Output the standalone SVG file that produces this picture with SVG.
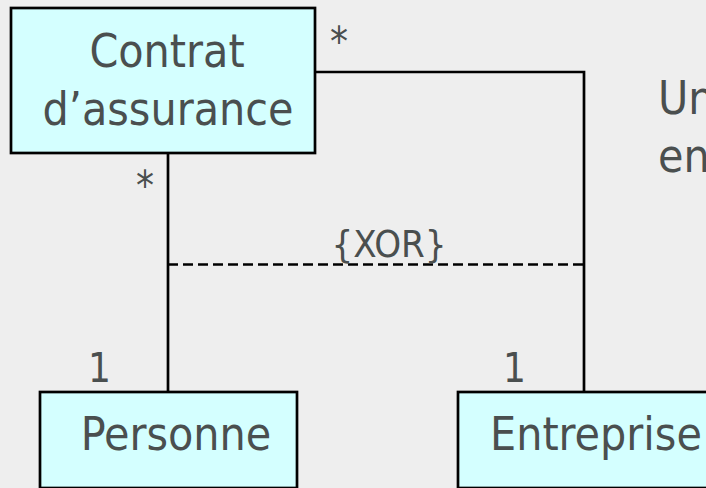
<svg xmlns="http://www.w3.org/2000/svg" width="706" height="488" viewBox="0 0 706 488">
<style>
.box{fill:#d4ffff;stroke:#000;stroke-width:2.7}
.big{font-family:"DejaVu Sans Condensed","DejaVu Sans",sans-serif;font-size:46px;fill:#4a4f4f}
.mid{font-family:"DejaVu Sans Condensed","DejaVu Sans",sans-serif;font-size:40px;fill:#4a4f4f}
.xor{font-family:"DejaVu Sans Condensed","DejaVu Sans",sans-serif;font-size:38px;fill:#4a4f4f}
.ln{fill:none;stroke:#000;stroke-width:2.7}
.dash{fill:none;stroke:#000;stroke-width:2.4;stroke-dasharray:10 5}
</style>
<rect x="0" y="0" width="706" height="488" fill="#eeeeee"/>
<g id="connectors">
<polyline class="ln" points="315,72 584,72 584,392"/>
<line class="ln" x1="168" y1="153" x2="168" y2="392"/>
<line class="dash" x1="168" y1="264.5" x2="584" y2="264.5"/>
<text class="mid" x="330" y="56">*</text>
<text class="mid" x="136" y="200">*</text>
<text class="mid" x="88" y="382">1</text>
<text class="mid" x="503" y="382">1</text>
<text class="xor" x="389" y="257" text-anchor="middle">{XOR}</text>
</g>
<g id="contrat">
<rect class="box" x="11" y="8" width="304" height="145"/>
<text class="big" x="167" y="67" text-anchor="middle">Contrat</text>
<text class="big" x="168" y="125" text-anchor="middle">d’assurance</text>
</g>
<g id="personne">
<rect class="box" x="40" y="392" width="257" height="96"/>
<text class="big" x="176" y="450" text-anchor="middle">Personne</text>
</g>
<g id="entreprise">
<rect class="box" x="458" y="392" width="260" height="96"/>
<text class="big" x="490" y="450">Entreprise</text>
</g>
<g id="note">
<text class="big" x="658" y="114">Un</text>
<text class="big" x="658" y="172">en</text>
</g>
</svg>
